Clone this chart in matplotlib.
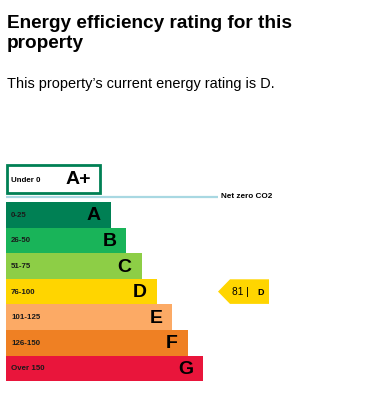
import matplotlib
matplotlib.use("Agg")
import matplotlib.pyplot as plt
from matplotlib.patches import Polygon, Rectangle

plt.rcParams['font.family'] = ['Liberation Sans', 'DejaVu Sans']

bands = ['A', 'B', 'C', 'D', 'E', 'F', 'G']
ranges = ['0-25', '26-50', '51-75', '76-100', '101-125', '126-150', 'Over 150']
colors = ['#008054', '#19b459', '#8dce46', '#ffd500', '#fcaa65', '#ef8023', '#e9153b']
current_score = 81
current_band = 'D'
title_lines = ['Energy efficiency rating for this', 'property']
subtitle = 'This property\u2019s current energy rating is D.'

W, H = 378, 413
fig = plt.figure(figsize=(W / 100, H / 100), dpi=100)
ax = fig.add_axes([0, 0, 1, 1])
ax.set_xlim(0, W)
ax.set_ylim(H, 0)
ax.axis('off')

for i, line in enumerate(title_lines):
    ax.text(7, 28 + 20 * i, line, fontsize=13.7, fontweight='bold',
            va='baseline', ha='left')
ax.text(7, 88, subtitle, fontsize=10.45, va='baseline', ha='left')

# A+ box
ax.add_patch(Rectangle((7, 165), 93, 28, facecolor='white', edgecolor='#008054', lw=2))
ax.text(11, 180, 'Under 0', fontsize=5.7, fontweight='bold', va='center', ha='left')
ax.text(91, 180, 'A+', fontsize=14, fontweight='bold', va='center', ha='right')

# Net zero line
ax.plot([6, 218], [196.5, 196.5], color='#a8d8e2', lw=1.6, solid_capstyle='butt')
ax.text(221, 196.5, 'Net zero CO2', fontsize=5.9, fontweight='bold', va='center', ha='left')

# bars
left = 6
top = 202
bh = 25.6
lengths = [105 + 15.33 * i for i in range(len(bands))]
centers = [top + bh * (i + 0.5) for i in range(len(bands))]
ax.barh(centers, lengths, left=left, height=bh, color=colors, edgecolor='none')
for c, l, b, r in zip(centers, lengths, bands, ranges):
    ax.text(left + 5, c + 0.5, r, fontsize=5.7, fontweight='bold', va='center', ha='left',
            color='#1a1a1a')
    ax.text(left + l - 10, c + 1, b, fontsize=14, fontweight='bold', va='center', ha='right')

# current rating arrow
idx = bands.index(current_band)
cy = centers[idx]
y0, y1 = cy - bh / 2 + 0.5, cy + bh / 2 - 0.5
tip, rl, rr = 218, 230, 269
ax.add_patch(Polygon([(tip, cy), (rl, y0), (rr, y0), (rr, y1), (rl, y1)],
                     closed=True, facecolor=colors[idx], edgecolor='none'))
ax.text(232, cy + 0.5, f'{current_score} |', fontsize=7.3, va='center', ha='left')
ax.text(257, cy + 0.5, current_band, fontsize=6.5, fontweight='bold', va='center', ha='left')

fig.savefig('out.png', dpi=100)
